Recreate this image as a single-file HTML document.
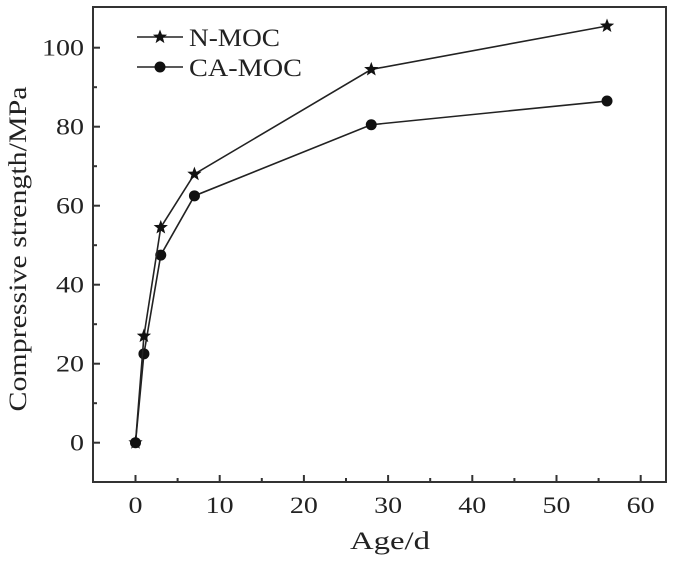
<!DOCTYPE html>
<html><head><meta charset="utf-8"><style>
html,body{margin:0;padding:0;background:#fff;}
svg text{font-family:"Liberation Serif",serif;fill:#222;}
</style></head><body>
<svg id="c" width="692" height="563" viewBox="0 0 692 563"></svg>
<script>
const days=[0,1,3,7,28,56];
const nmoc=[0,27,54.5,68,94.5,105.5];
const camoc=[0,22.5,47.5,62.5,80.5,86.5];
const xTicks=[0,10,20,30,40,50,60];
const yTicks=[0,20,40,60,80,100];
const L=93,R=666,T=7,B=482;
const x=v=>135.5+(v)*8.42;
const y=v=>442.7-v*3.95;
const s=document.getElementById('c');
const NS='http://www.w3.org/2000/svg';
function mk(t,a,p){const e=document.createElementNS(NS,t);for(const k in a)e.setAttribute(k,a[k]);(p||s).appendChild(e);return e;}
let e=mk('rect',{x:L,y:T,width:R-L,height:B-T,fill:'none',stroke:'#333','stroke-width':2});


for(let v=-5;v<=65;v+=5){const major=v%10===0;const px=x(v);if(px<L+2||px>R-2)continue;
 mk('line',{x1:px,x2:px,y1:B,y2:B-(major?7:4),stroke:'#333','stroke-width':2});}
xTicks.forEach(v=>{const t=mk('text',{x:x(v),y:B+31,'text-anchor':'middle','font-size':23,textLength:String(v).length*14,lengthAdjust:'spacingAndGlyphs'});t.textContent=v;
 
 });
for(let v=-10;v<=110;v+=10){const major=v%20===0;const py=y(v);if(py<T+2||py>B-2)continue;
 mk('line',{x1:L,x2:L+(major?7:4),y1:py,y2:py,stroke:'#333','stroke-width':2});}
yTicks.forEach(v=>{const t=mk('text',{x:L-9,y:y(v)+8,'text-anchor':'end','font-size':23,textLength:String(v).length*14,lengthAdjust:'spacingAndGlyphs'});t.textContent=v;
 
 });
let xt=mk('text',{x:390,y:549,'text-anchor':'middle','font-size':25,textLength:80,lengthAdjust:'spacingAndGlyphs'});xt.textContent='Age/d';


let yt=mk('text',{x:0,y:0,'text-anchor':'middle','font-size':25,textLength:325,lengthAdjust:'spacingAndGlyphs',transform:'translate(26,249) rotate(-90)'});yt.textContent='Compressive strength/MPa';


function star(cx,cy,r){let p=[];for(let i=0;i<10;i++){const rr=i%2?r*0.42:r;const a=-Math.PI/2+i*Math.PI/5;p.push((cx+rr*Math.cos(a)).toFixed(1)+','+(cy+rr*Math.sin(a)).toFixed(1));}return p.join(' ');}
function series(vals,name,marker){
 const g=mk('g',{});
 
 
 mk('polyline',{points:days.map((d,i)=>x(d)+','+y(vals[i])).join(' '),fill:'none',stroke:'#222','stroke-width':1.6},g);
 days.forEach((d,i)=>{let m;
  if(marker==='star')m=mk('polygon',{points:star(x(d),y(vals[i]),7.5),fill:'#111'},g);
  else m=mk('circle',{cx:x(d),cy:y(vals[i]),r:5.5,fill:'#111'},g);
  
  });
}
series(camoc,'ca-moc-series','circle');
series(nmoc,'n-moc-series','star');
function legend(ly,label,marker,name,w){const g=mk('g',{});
 
 
 mk('line',{x1:137,x2:183,y1:ly,y2:ly,stroke:'#222','stroke-width':1.6},g);
 if(marker==='star')mk('polygon',{points:star(160,ly,7.5),fill:'#111'},g);else mk('circle',{cx:160,cy:ly,r:5.5,fill:'#111'},g);
 const t=mk('text',{x:189,y:ly+9,'font-size':25,textLength:w,lengthAdjust:'spacingAndGlyphs'},g);t.textContent=label;}
legend(37,'N-MOC','star','legend-entry-n-moc',91);
legend(67,'CA-MOC','circle','legend-entry-ca-moc',113);
</script>
</body></html>
